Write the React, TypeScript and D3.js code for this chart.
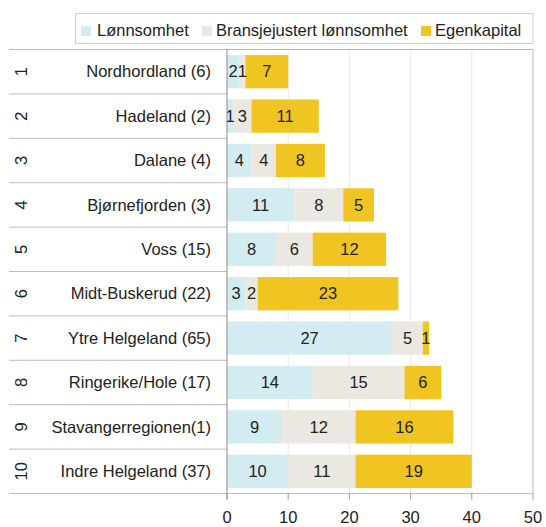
import React from "react";
import * as d3 from "d3";

const categories = [
  "Nordhordland (6)",
  "Hadeland (2)",
  "Dalane (4)",
  "Bjørnefjorden (3)",
  "Voss (15)",
  "Midt-Buskerud (22)",
  "Ytre Helgeland (65)",
  "Ringerike/Hole (17)",
  "Stavangerregionen(1)",
  "Indre Helgeland (37)",
];
const ranks = ["1", "2", "3", "4", "5", "6", "7", "8", "9", "10"];
const seriesNames = ["Lønnsomhet", "Bransjejustert lønnsomhet", "Egenkapital"];
const lonnsomhet = [2, 1, 4, 11, 8, 3, 27, 14, 9, 10];
const bransje = [1, 3, 4, 8, 6, 2, 5, 15, 12, 11];
const egenkapital = [7, 11, 8, 5, 12, 23, 1, 6, 16, 19];
const xTicks = [0, 10, 20, 30, 40, 50];

const colors = ["#d3ecf1", "#ebe8e1", "#f1c521"];
const W = 546;
const H = 527;
const FONT = "'Liberation Sans', Arial, Helvetica, sans-serif";
const FS = 16.5;
const TXT = "#222";

export default function App() {
  const x = d3.scaleLinear().domain([0, 50]).range([227, 533]);
  const y = d3
    .scaleBand<string>()
    .domain(categories)
    .range([49.5, 493.5])
    .paddingInner(0.25)
    .paddingOuter(0.125);
  const step = y.step();
  const top = 49.5;
  const bottom = 493.5;

  const rows = categories.map((c, i) => ({
    cat: c,
    vals: [lonnsomhet[i], bransje[i], egenkapital[i]],
  }));
  const stack = d3
    .stack<any>()
    .keys(["0", "1", "2"])
    .value((d, k) => d.vals[+k]);
  const stacked = stack(rows);

  const legendItems = [
    { sx: 81, tx: 97 },
    { sx: 202, tx: 216 },
    { sx: 421, tx: 435 },
  ];

  return (
    <svg
      width={W}
      height={H}
      style={{ position: "absolute", left: 0, top: 0, background: "#fff" }}
      fontFamily={FONT}
    >
      {/* legend */}
      <rect x={75.5} y={13.5} width={457.5} height={30} fill="#fff" stroke="#ccc" />
      {seriesNames.map((s, i) => (
        <g key={s}>
          <rect x={legendItems[i].sx} y={26} width={10} height={10} fill={colors[i]} />
          <text x={legendItems[i].tx} y={30} dy="0.35em" fontSize={FS} fill={TXT}>
            {s}
          </text>
        </g>
      ))}

      {/* gridlines */}
      {xTicks.slice(1, -1).map((t) => (
        <line key={t} x1={x(t)} x2={x(t)} y1={top} y2={bottom} stroke="#e8e8e8" />
      ))}

      {/* row separators */}
      {d3.range(categories.length + 1).map((i) => (
        <line
          key={i}
          x1={9}
          x2={i === categories.length ? 533 : 227}
          y1={top + i * step}
          y2={top + i * step}
          stroke="#bdbdbd"
        />
      ))}

      {/* bars */}
      {stacked.map((layer, li) =>
        layer.map((d, i) => (
          <rect
            key={`${li}-${i}`}
            x={x(d[0])}
            y={y(categories[i])}
            width={x(d[1]) - x(d[0])}
            height={y.bandwidth()}
            fill={colors[li]}
          />
        ))
      )}
      {stacked.map((layer, li) =>
        layer.map((d, i) => (
          <text
            key={`t${li}-${i}`}
            x={x((d[0] + d[1]) / 2)}
            y={(y(categories[i]) as number) + y.bandwidth() / 2}
            dy="0.35em"
            textAnchor="middle"
            fontSize={FS}
            fill={TXT}
          >
            {rows[i].vals[li]}
          </text>
        ))
      )}

      {/* plot border */}
      <line x1={227} x2={533} y1={top} y2={top} stroke="#b5b5b5" />
      <line x1={533} x2={533} y1={top} y2={bottom} stroke="#b5b5b5" />
      <line x1={227} x2={227} y1={top} y2={bottom + 6} stroke="#8a8a8a" />

      {/* x axis ticks */}
      {xTicks.map((t) => (
        <g key={t}>
          <line x1={x(t)} x2={x(t)} y1={bottom} y2={bottom + 6} stroke="#999" />
          <text x={x(t)} y={517} dy="0.35em" textAnchor="middle" fontSize={FS} fill={TXT}>
            {t}
          </text>
        </g>
      ))}

      {/* category labels */}
      {categories.map((c, i) => {
        const cy = top + (i + 0.5) * step;
        return (
          <g key={c}>
            <text x={211} y={cy} dy="0.35em" textAnchor="end" fontSize={FS} fill={TXT}>
              {c}
            </text>
            <text
              transform={`translate(21,${cy}) rotate(-90)`}
              dy="0.35em"
              textAnchor="middle"
              fontSize={FS}
              fill={TXT}
            >
              {ranks[i]}
            </text>
          </g>
        );
      })}
    </svg>
  );
}
